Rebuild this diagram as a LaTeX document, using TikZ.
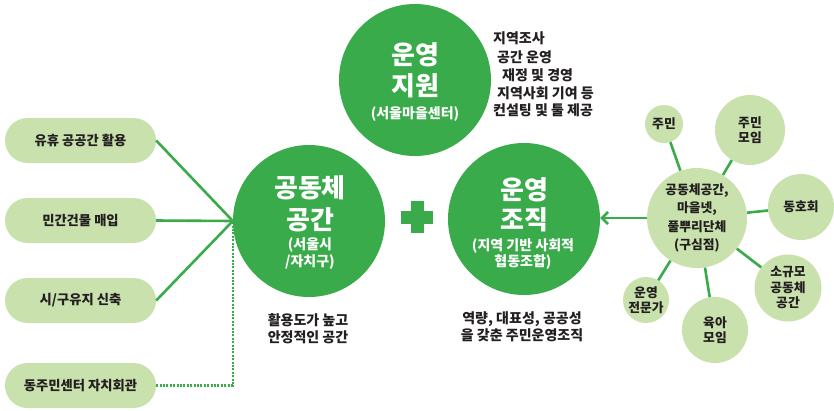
\documentclass[tikz,border=0pt]{standalone}
\usepackage{fontspec}
\setmainfont{Noto Sans CJK KR}
\usetikzlibrary{arrows.meta}
\definecolor{dkgreen}{RGB}{57,171,74}
\definecolor{ltgreen}{RGB}{201,226,173}
\definecolor{ink}{RGB}{35,31,32}
\begin{document}
\begin{tikzpicture}[x=1pt,y=-1pt,
  bigcirc/.style={circle, fill=dkgreen, minimum size=152pt, inner sep=0pt},
  title/.style={text=white, font=\bfseries\fontsize{26}{26}\selectfont, inner sep=0pt},
  sub/.style={text=white, font=\bfseries\fontsize{14}{14}\selectfont, inner sep=0pt},
  pill/.style={fill=ltgreen, rounded corners=22.5pt, minimum width=151pt, minimum height=45pt, inner sep=0pt, text=ink, font=\bfseries\fontsize{13.3}{13.3}\selectfont},
  link/.style={draw=dkgreen, line width=2.6pt},
  sat/.style={circle, fill=ltgreen, inner sep=0pt, align=center, text=ink, font=\bfseries\fontsize{12.8}{15.5}\selectfont},
  note/.style={text=ink, font=\bfseries\fontsize{14}{17}\selectfont, inner sep=0pt, align=center},
]
\useasboundingbox (0,0) rectangle (834,410);

% big circles
\node[bigcirc] (c0) at (415,80) {};
\node[bigcirc] (c1) at (309,221) {};
\node[bigcirc] (c2) at (524,219) {};

\node[title] (c0a) at (415,55) {운영};
\node[title] (c0b) at (415,86) {지원};
\node[sub] (c0c) at (415,114) {(서울마을센터)};

\node[title] (c1a) at (310,188) {공동체};
\node[title] (c1b) at (310,220) {공간};
\node[sub] (c1c) at (310,245) {(서울시};
\node[sub] (c1d) at (310,262) {/자치구)};

\node[title] (c2a) at (524,190) {운영};
\node[title] (c2b) at (524,220) {조직};
\node[sub] (c2c) at (523,246) {(지역 기반 사회적};
\node[sub] (c2d) at (523,262) {협동조합)};

% plus sign
\fill[dkgreen] (401,210.5) rectangle (433,223.5);
\fill[dkgreen] (410.5,201) rectangle (423.5,233);

% support text
\node[note, anchor=west] (t1) at (493,38.5) {지역조사};
\node[note, anchor=west] (t2) at (497,57) {공간 운영};
\node[note, anchor=west] (t3) at (502,75) {재정 및 경영};
\node[note, anchor=west] (t4) at (497,93) {지역사회 기여 등};
\node[note, anchor=west] (t5) at (493,110) {컨설팅 및 툴 제공};

% notes below
\node[note] (n1) at (308,328.5) {활용도가 높고\\안정적인 공간};
\node[note] (n2) at (522,326.5) {역량, 대표성, 공공성\\을 갖춘 주민운영조직};

% pills
\node[pill] (p1) at (80.5,140.5) {유휴 공공간 활용};
\node[pill] (p2) at (80.5,220.5) {민간건물 매입};
\node[pill] (p3) at (80.5,300.5) {시/구유지 신축};
\node[pill] (p4) at (80.5,385.5) {동주민센터 자치회관};

\draw[link] (p1.east) -- (c1.west);
\draw[link] (p2.east) -- (c1.west);
\draw[link] (p3.east) -- (c1.west);
\draw[link, line width=2.3pt, dash pattern=on 2pt off 1.4pt] (p4.east) -| (c1.west);

% right cluster
\node[sat, minimum size=100pt, font=\bfseries\fontsize{12.8}{18.5}\selectfont] (cc) at (697,218) {공동체공간,\\마을넷,\\풀뿌리단체\\(구심점)};
\node[sat, minimum size=38pt] (s1) at (664,124) {주민};
\node[sat, minimum size=70pt] (s2) at (750,130) {주민\\모임};
\node[sat, minimum size=66pt] (s3) at (801,207) {동호회};
\node[sat, minimum size=67pt] (s4) at (788,288) {소규모\\공동체\\공간};
\node[sat, minimum size=66pt] (s5) at (715,330) {육아\\모임};
\node[sat, minimum size=46pt] (s6) at (646,300) {운영\\전문가};

\draw[link] (cc) -- (s1);
\draw[link] (cc) -- (s2);
\draw[link] (cc) -- (s3);
\draw[link] (cc) -- (s4);
\draw[link] (cc) -- (s5);
\draw[link] (cc) -- (s6);

\draw[link, -{Straight Barb[length=6pt,width=12pt]}] (cc.west) -- (c2.east |- cc.west);
\end{tikzpicture}
\end{document}
